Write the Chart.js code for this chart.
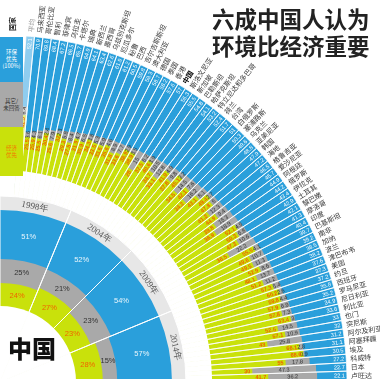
<!DOCTYPE html>
<html>
<head>
<meta charset="utf-8">
<script src="https://cdn.jsdelivr.net/npm/chart.js@4.4.1/dist/chart.umd.min.js"></script>
<style>
html,body{margin:0;padding:0;background:#fff;}
#wrap{position:relative;width:380px;height:379px;overflow:hidden;background:#fff;}
canvas.cv{position:absolute;left:-400px;top:-18px;}
#title{position:absolute;left:212px;top:5px;font:700 22.5px/27px "Noto Sans CJK SC",sans-serif;color:#222;white-space:nowrap;}
#cn{position:absolute;left:8px;top:333px;font:900 24px/30px "Noto Sans CJK SC",sans-serif;color:#111;white-space:nowrap;}
.lg{position:absolute;left:0;width:23px;display:flex;align-items:center;justify-content:center;text-align:center;font:5.5px/7px "Noto Sans CJK SC",sans-serif;white-space:pre;}
#guo{position:absolute;left:0px;top:19px;width:24px;height:10px;font:700 7px/10px "Noto Sans CJK SC",sans-serif;color:#222;transform:rotate(-90deg);text-align:center;}
</style>
</head>
<body>
<div id="wrap">
  <canvas id="fan" class="cv" width="800" height="800"></canvas>
  <canvas id="ring" class="cv" width="800" height="800"></canvas>
  <div class="lg" style="top:37px;height:45px;background:#2a9fdb;color:#fff;">环保
优先
(100%)</div>
  <div class="lg" style="top:82px;height:45px;background:#a9a9a9;color:#333;">其它/
未回答</div>
  <div class="lg" style="top:127px;height:49px;background:#c9e10b;color:#f07800;">经济
优先</div>
  <div id="guo">国家</div>
  <div id="title">六成中国人认为<br>环境比经济重要</div>
  <div id="cn">中国</div>
</div>
<script>
// ---------------- data ----------------
const countries = ['平均','马来西亚','哥伦比亚','智利','菲律宾','乌拉圭','卡塔尔','瑞典','新西兰','墨西哥','乌兹别克斯坦','厄瓜多尔','秘鲁','巴西','吉尔吉斯斯坦','澳大利亚','德国','泰国','香港','中国','斯洛文尼亚','新加坡','巴勒斯坦','哈萨克斯坦','特立尼达和多巴哥','荷兰','台湾','白俄罗斯','塞浦路斯','乌克兰','亚美尼亚','韩国','海地','格鲁吉亚','爱沙尼亚','阿根廷','俄罗斯','伊拉克','土耳其','黎巴嫩','摩洛哥','印度','巴基斯坦','南非','加纳','波兰','津巴布韦','美国','约旦','西班牙','罗马尼亚','尼日利亚','利比亚','也门','突尼斯','阿尔及利亚','阿塞拜疆','埃及','科威特','日本','卢旺达'];
const envPriority = [52.1, 70.9,69.8,68.4,67.2,66.5,65.7,64.9,64.1,63.4,62.6,61.9,61.2,60.5,59.8,59.3,58.7,58.2,57.6,57, 56.3,55.5,54.8,54.1,53.2,52.4,51.7,51,50.3,49.6,48.8,47.9,47.2,46.5,45.7,44.9,44.2,43.4,42.9,42.1,41.3,40.4,39.7, 39.2,38.5,38.2,37.6,37.3,37.2,35.8,35.2,34.9,33.6,33,32,31.2,31.1,30.5,27.2,22.7,22.1];
const otherNoAnswer = [6.4, 3.6,4.3,6.1,2.4,7.9,2.3,5.8,8.4,4.7,6.5,3.8,5.3,5.9,4.6,8.9,7.7,2.9,3.5,15, 6.2,3.9,10.5,12.8,4.9,9.8,3.2,14.5,7.6,16.2,8.1,2.7,5,12.3,9.4,15.3,18.9,4.5,6.8,10.6,22.2,4.1,10.7, 11.3,8.6,13.7,11.2,5.4,2.6,4.4,6.9,7.3,3,14.5,10.9,25.8,2.8,0.9,17.8,47.3,36.2];
const econPriority = [41.5, 25.5,25.9,25.5,30.4,25.6,32,29.3,27.5,31.9,30.9,34.3,33.5,33.6,35.6,31.8,33.6,38.9,38.9,28, 37.5,40.6,34.7,33.1,41.9,37.8,45.1,34.5,42.1,34.2,43.1,49.4,47.8,41.2,44.9,39.8,36.9,52.1,50.3,47.3,36.5,55.5,49.6, 49.5,52.9,48.1,51.2,57.3,60.2,59.8,57.9,57.8,63.4,52.5,57.1,43,66.1,68.6,55,30,41.7];

const chinaYears = ['1998年','2004年','2009年','2014年'];
const chinaEnv = [51,52,54,57];
const chinaOther = [25,21,23,15];
const chinaEcon = [24,27,23,28];

// ---------------- style / layout ----------------
const BLUE='#2a9fdb', GRAY='#a9a9a9', GREEN='#c9e10b';
const BLUE_L='#8fcdef', GRAY_L='#d3d3d3', GREEN_L='#e2ef88';
const ORANGE='#f06400';
const HALF=400;
function scaleRange(inner, len){ const k=len/100; const mn=-inner/k; return {min:mn, max:mn+HALF/k}; }

// ---------------- fan chart ----------------
const fanStart=4.3, fanEnd=89.6;
const barAngle=(fanEnd-fanStart)/countries.length;
const fanCumGray = econPriority.map((g,i)=>g+otherNoAnswer[i]);
const full = countries.map(()=>100);
const zero = countries.map(()=>0);
const pick=(a,b)=>countries.map((c,i)=>i===0?a:b);
const fmt=v=>String(v);

const fanLabels={
  id:'fanLabels',
  afterDatasetsDraw(chart){
    const ctx=chart.ctx, sc=chart.scales.r;
    const arcs=chart.getDatasetMeta(4).data;
    const rOut=sc.getDistanceFromCenterForValue(100);
    arcs.forEach((a,i)=>{
      const mid=(a.startAngle+a.endAngle)/2;
      const rG=sc.getDistanceFromCenterForValue(econPriority[i]);
      const rY=sc.getDistanceFromCenterForValue(fanCumGray[i]);
      ctx.save();
      ctx.translate(a.x,a.y); ctx.rotate(mid);
      ctx.textBaseline='middle';
      const isCN=countries[i]==='中国';
      ctx.font=(isCN?'700 ':'400 ')+'7px "Noto Sans CJK SC", sans-serif';
      ctx.fillStyle=i===0?'#9a9a9a':(isCN?'#000':'#3a3a3a');
      ctx.textAlign='left';
      ctx.fillText(countries[i], rOut+4, 0.5);
      ctx.font='5.6px "Liberation Sans", sans-serif';
      ctx.textAlign='right'; ctx.fillStyle='#fff';
      ctx.fillText(fmt(envPriority[i]), rOut-2, 0.4);
      ctx.textAlign='center'; ctx.fillStyle='#333';
      ctx.fillText(fmt(otherNoAnswer[i]), (rG+rY)/2, 0.4);
      ctx.font='700 5.6px "Liberation Sans", sans-serif';
      ctx.textAlign='right'; ctx.fillStyle=ORANGE;
      ctx.fillText(fmt(econPriority[i]), rG-2, 0.4);
      ctx.restore();
    });
  }
};

const fr=scaleRange(212,135);
new Chart(document.getElementById('fan'),{
  type:'polarArea',
  data:{labels:countries, datasets:[
    {data:full, backgroundColor:'rgba(0,0,0,0)', borderColor:'#fff', borderWidth:0.8, angle:barAngle},
    {data:zero, backgroundColor:'#fff', borderWidth:0, angle:barAngle},
    {data:econPriority, backgroundColor:pick(GREEN_L,GREEN), borderWidth:0, angle:barAngle},
    {data:fanCumGray, backgroundColor:pick(GRAY_L,GRAY), borderWidth:0, angle:barAngle},
    {data:full, backgroundColor:pick(BLUE_L,BLUE), borderWidth:0, angle:barAngle}
  ]},
  options:{
    responsive:false, devicePixelRatio:1, animation:false, events:[],
    layout:{padding:0},
    plugins:{legend:{display:false}, tooltip:{enabled:false}},
    scales:{r:{display:false, min:fr.min, max:fr.max, startAngle:fanStart}}
  },
  plugins:[fanLabels]
});

// ---------------- China ring chart ----------------
const ringAngle=90/chinaYears.length;
const ringCumGray=chinaEcon.map((g,i)=>g+chinaOther[i]);
const ringBand=114.6;
const ringLabels={
  id:'ringLabels',
  afterDatasetsDraw(chart){
    const ctx=chart.ctx, sc=chart.scales.r;
    const arcs=chart.getDatasetMeta(4).data;
    arcs.forEach((a,i)=>{
      const mid=(a.startAngle+a.endAngle)/2;
      const put=(v0,v1,txt,col)=>{
        const rr=(sc.getDistanceFromCenterForValue(v0)+sc.getDistanceFromCenterForValue(v1))/2;
        ctx.fillStyle=col;
        ctx.fillText(txt, a.x+rr*Math.cos(mid), a.y+rr*Math.sin(mid));
      };
      ctx.save();
      ctx.textAlign='center'; ctx.textBaseline='middle';
      ctx.font='7.5px "Liberation Sans", sans-serif';
      put(0,chinaEcon[i],chinaEcon[i]+'%',ORANGE);
      put(chinaEcon[i],ringCumGray[i],chinaOther[i]+'%','#333');
      put(ringCumGray[i],100,chinaEnv[i]+'%','#e8f5fc');
      ctx.restore();
      const rb=(sc.getDistanceFromCenterForValue(100)+sc.getDistanceFromCenterForValue(ringBand))/2;
      ctx.save();
      ctx.translate(a.x+rb*Math.cos(mid), a.y+rb*Math.sin(mid));
      ctx.rotate(mid+Math.PI/2);
      ctx.textAlign='center'; ctx.textBaseline='middle';
      ctx.font='9px "Liberation Serif", serif';
      ctx.fillStyle='#555';
      ctx.fillText(chinaYears[i],0,0.5);
      ctx.restore();
    });
  }
};
const rr=scaleRange(76,96);
new Chart(document.getElementById('ring'),{
  type:'polarArea',
  data:{labels:chinaYears, datasets:[
    {data:chinaYears.map(()=>ringBand), backgroundColor:'rgba(0,0,0,0)', borderColor:'#fff', borderWidth:1, angle:ringAngle},
    {data:chinaYears.map(()=>0), backgroundColor:'#fff', borderWidth:0, angle:ringAngle},
    {data:chinaEcon, backgroundColor:GREEN, borderWidth:0, angle:ringAngle},
    {data:ringCumGray, backgroundColor:GRAY, borderWidth:0, angle:ringAngle},
    {data:chinaYears.map(()=>100), backgroundColor:BLUE, borderWidth:0, angle:ringAngle},
    {data:chinaYears.map(()=>ringBand), backgroundColor:'#e7e7e7', borderWidth:0, angle:ringAngle}
  ]},
  options:{
    responsive:false, devicePixelRatio:1, animation:false, events:[],
    layout:{padding:0},
    plugins:{legend:{display:false}, tooltip:{enabled:false}},
    scales:{r:{display:false, min:rr.min, max:rr.max, startAngle:0}}
  },
  plugins:[ringLabels]
});
</script>
</body>
</html>
